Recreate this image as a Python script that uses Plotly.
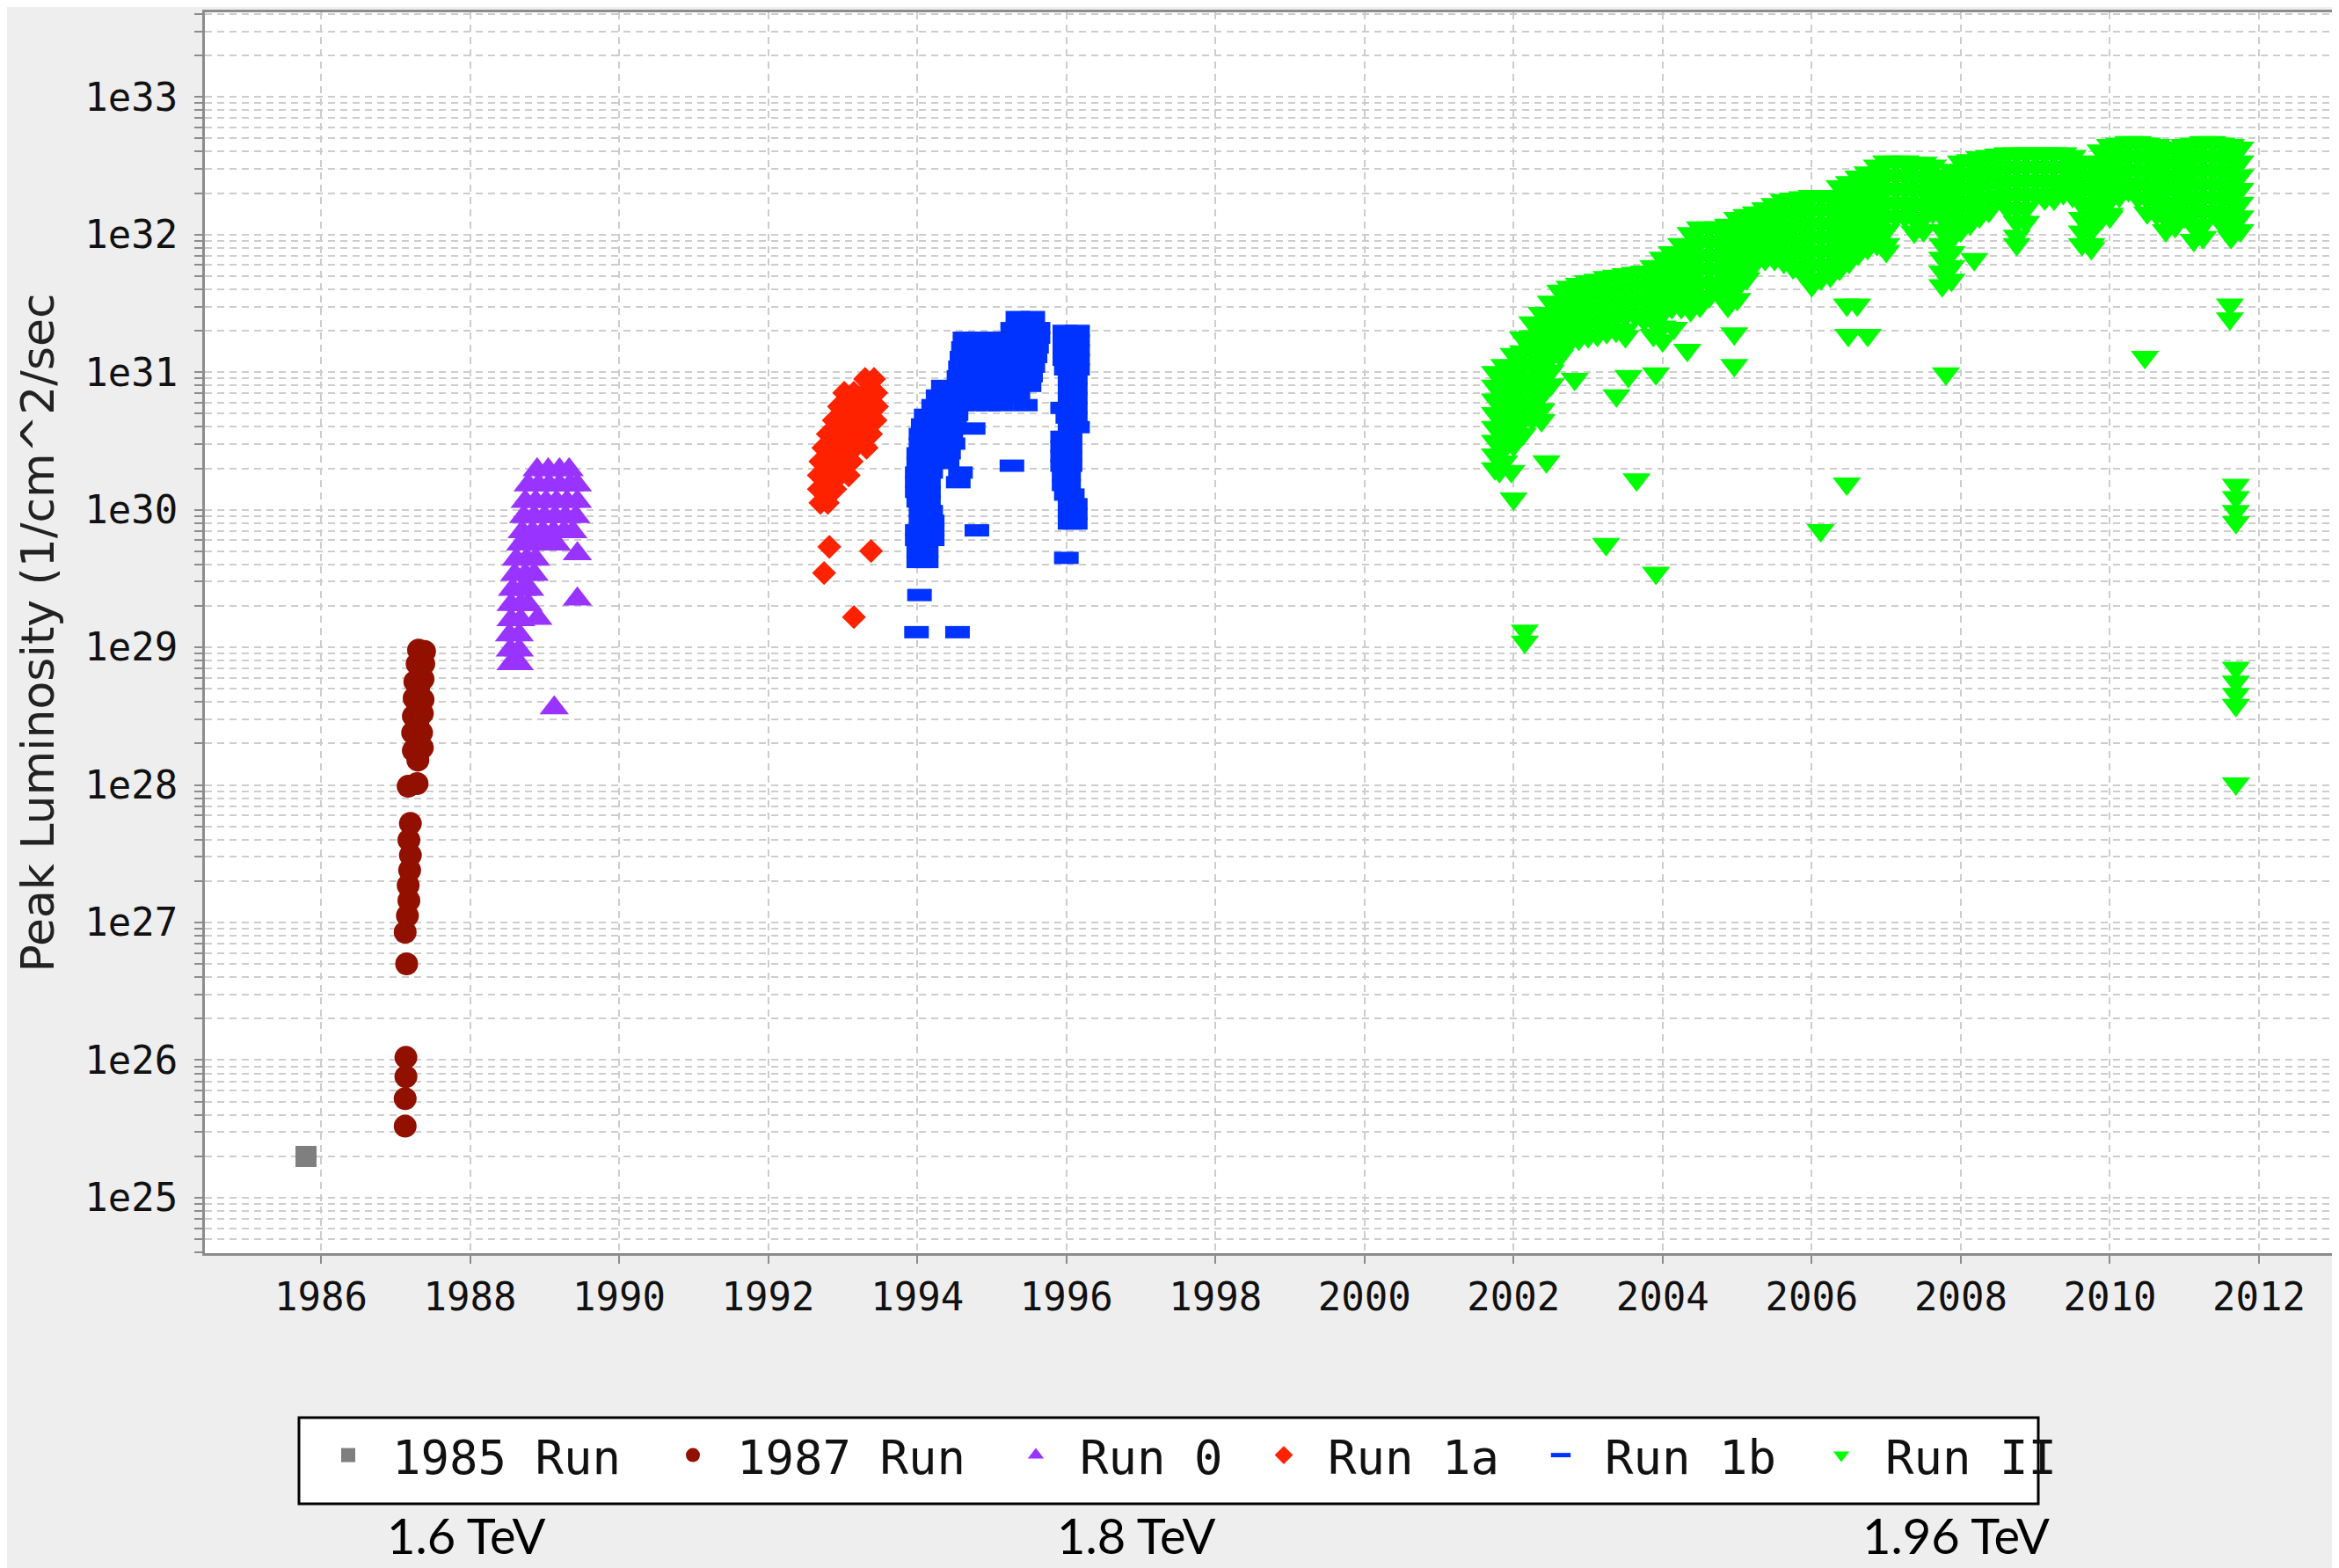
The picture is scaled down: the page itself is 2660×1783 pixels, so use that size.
import plotly.graph_objects as go

# ---------------- data: (year, log10 of peak luminosity [1/cm^2/sec]) ----------------
RUN_1985 = [(1985.80, 25.30)]

RUN_1987 = [
    (1987.13, 25.52), (1987.13, 25.72), (1987.14, 25.88), (1987.14, 26.02),
    (1987.15, 26.70), (1987.13, 26.93), (1987.16, 27.05), (1987.18, 27.16),
    (1987.17, 27.27), (1987.19, 27.38), (1987.20, 27.49), (1987.18, 27.60),
    (1987.20, 27.72), (1987.17, 27.99), (1987.29, 28.01), (1987.24, 28.25),
    (1987.36, 28.27), (1987.23, 28.38), (1987.35, 28.38), (1987.24, 28.50),
    (1987.36, 28.52), (1987.25, 28.63), (1987.37, 28.62), (1987.26, 28.75),
    (1987.37, 28.77), (1987.29, 28.88), (1987.38, 28.88), (1987.31, 28.98),
    (1987.39, 28.97), (1987.30, 28.44), (1987.31, 28.70), (1987.30, 28.18),
]

# rows: (log10 L, [years])
RUN0_ROWS = [
    (30.29, [1988.90, 1989.05, 1989.20, 1989.33]),
    (30.18, [1988.78, 1988.92, 1989.06, 1989.20, 1989.34, 1989.44]),
    (30.06, [1988.74, 1988.88, 1989.02, 1989.16, 1989.30, 1989.44]),
    (29.95, [1988.72, 1988.86, 1989.00, 1989.14, 1989.28, 1989.42]),
    (29.84, [1988.70, 1988.84, 1988.98, 1989.12, 1989.26, 1989.38]),
    (29.75, [1988.68, 1988.80, 1988.92, 1989.04, 1989.16]),
    (29.64, [1988.62, 1988.76, 1988.88]),
    (29.53, [1988.60, 1988.74, 1988.86]),
    (29.42, [1988.57, 1988.70, 1988.80]),
    (29.31, [1988.55, 1988.68, 1988.78]),
    (29.20, [1988.55, 1988.68]),
    (29.09, [1988.53, 1988.66]),
    (28.98, [1988.54, 1988.66]),
    (28.88, [1988.55, 1988.66]),
    (29.68, [1989.44]), (29.35, [1989.44]), (29.21, [1988.91]), (28.56, [1989.13]),
]

RUN1A_ROWS = [
    (30.95, [1993.30, 1993.42]),
    (30.85, [1993.02, 1993.15, 1993.30, 1993.45]),
    (30.75, [1992.95, 1993.08, 1993.22, 1993.36, 1993.46]),
    (30.65, [1992.88, 1993.02, 1993.16, 1993.30, 1993.44]),
    (30.55, [1992.80, 1992.94, 1993.08, 1993.22, 1993.38]),
    (30.45, [1992.74, 1992.88, 1993.02, 1993.16, 1993.32]),
    (30.35, [1992.70, 1992.84, 1992.98, 1993.12]),
    (30.25, [1992.68, 1992.82, 1992.96, 1993.08]),
    (30.15, [1992.68, 1992.80, 1992.90]),
    (30.05, [1992.70, 1992.80]),
    (29.73, [1992.82]), (29.70, [1993.38]), (29.54, [1992.75]), (29.22, [1993.15]),
]

RUN1B_ROWS = [
    # middle block
    (31.40, [1995.35, 1995.55]),
    (31.32, [1995.28, 1995.48, 1995.62]),
    (31.25, [1994.64, 1994.80, 1995.05, 1995.25, 1995.45, 1995.62]),
    (31.18, [1994.62, 1994.78, 1994.98, 1995.18, 1995.38, 1995.60]),
    (31.11, [1994.60, 1994.76, 1994.95, 1995.15, 1995.35, 1995.58]),
    (31.04, [1994.58, 1994.75, 1994.95, 1995.15, 1995.35, 1995.55]),
    (30.97, [1994.56, 1994.75, 1994.95, 1995.15, 1995.35, 1995.52]),
    (30.90, [1994.35, 1994.55, 1994.72, 1994.92, 1995.12, 1995.32, 1995.50]),
    (30.83, [1994.28, 1994.50, 1994.72, 1994.92, 1995.12, 1995.35]),
    (30.76, [1994.22, 1994.45, 1994.60, 1994.75, 1994.95, 1995.12, 1995.45]),
    # left column
    (30.69, [1994.12, 1994.32, 1994.52]),
    (30.62, [1994.08, 1994.28, 1994.50]),
    (30.55, [1994.05, 1994.25, 1994.45]),
    (30.48, [1994.05, 1994.25, 1994.48]),
    (30.41, [1994.02, 1994.22, 1994.42]),
    (30.34, [1994.02, 1994.20, 1994.40]),
    (30.27, [1994.00, 1994.18, 1994.58]),
    (30.20, [1994.00, 1994.15, 1994.55]),
    (30.13, [1994.00, 1994.15]),
    (30.06, [1994.02, 1994.15]),
    (29.99, [1994.05, 1994.18]),
    (29.92, [1994.05, 1994.20]),
    (29.85, [1994.00, 1994.20, 1994.80]),
    (29.78, [1994.00, 1994.20]),
    (29.70, [1994.02, 1994.12]),
    (29.62, [1994.02, 1994.12]),
    (29.38, [1994.03]), (29.11, [1993.99, 1994.54]), (30.59, [1994.75]), (30.32, [1995.27]),
    # right column
    (31.30, [1995.98, 1996.15]),
    (31.23, [1995.98, 1996.15]),
    (31.16, [1995.98, 1996.15]),
    (31.09, [1995.98, 1996.15]),
    (31.02, [1996.00, 1996.15]),
    (30.95, [1996.05, 1996.12]),
    (30.88, [1996.05, 1996.12]),
    (30.81, [1996.05, 1996.12]),
    (30.74, [1995.95, 1996.12]),
    (30.67, [1996.02, 1996.12]),
    (30.60, [1996.05, 1996.15]),
    (30.53, [1995.95, 1996.05]),
    (30.46, [1995.95, 1996.05]),
    (30.39, [1995.95, 1996.05]),
    (30.32, [1995.95, 1996.05]),
    (30.25, [1995.97, 1996.03]),
    (30.18, [1995.97, 1996.03]),
    (30.11, [1996.00, 1996.08]),
    (30.04, [1996.05, 1996.12]),
    (29.97, [1996.05, 1996.12]),
    (29.90, [1996.05, 1996.12]),
    (29.65, [1996.00]),
]

# columns: (year, [log10 L values])
RUN2_COLUMNS = [
    (2001.75, [31.00, 30.90, 30.80, 30.70, 30.60, 30.50, 30.40, 30.30]),
    (2001.875, [31.05, 30.95, 30.85, 30.75, 30.65, 30.55, 30.45, 30.35]),
    (2002.00, [31.13, 31.03, 30.93, 30.83, 30.73, 30.63, 30.53, 30.47]),
    (2002.125, [31.25, 31.15, 31.05, 30.95, 30.85, 30.75, 30.65, 30.55]),
    (2002.25, [31.36, 31.26, 31.16, 31.06, 30.96, 30.86, 30.76, 30.66]),
    (2002.375, [31.43, 31.33, 31.23, 31.13, 31.03, 30.93, 30.83, 30.73, 30.65]),
    (2002.50, [31.51, 31.41, 31.31, 31.21, 31.11, 31.01, 30.91]),
    (2002.625, [31.59, 31.49, 31.39, 31.29, 31.19, 31.12]),
    (2002.75, [31.62, 31.52, 31.42, 31.32, 31.22]),
    (2002.875, [31.64, 31.54, 31.44, 31.34, 31.24]),
    (2003.00, [31.66, 31.56, 31.46, 31.36, 31.26]),
    (2003.125, [31.67, 31.57, 31.47, 31.37, 31.27]),
    (2003.25, [31.69, 31.59, 31.49, 31.39, 31.29]),
    (2003.375, [31.70, 31.60, 31.50, 31.40, 31.30]),
    (2003.50, [31.71, 31.61, 31.51, 31.41, 31.31, 31.26]),
    (2003.625, [31.72, 31.62, 31.52, 31.42]),
    (2003.75, [31.73, 31.63, 31.53, 31.43, 31.38]),
    (2003.875, [31.77, 31.67, 31.57, 31.47, 31.37, 31.27]),
    (2004.00, [31.83, 31.73, 31.63, 31.53, 31.43, 31.33, 31.23]),
    (2004.125, [31.87, 31.77, 31.67, 31.57, 31.47]),
    (2004.25, [31.93, 31.83, 31.73, 31.63, 31.53, 31.47]),
    (2004.375, [32.01, 31.91, 31.81, 31.71, 31.61, 31.51, 31.45]),
    (2004.50, [32.05, 31.95, 31.85, 31.75, 31.65, 31.55, 31.48]),
    (2004.625, [32.05, 31.95, 31.85, 31.75, 31.65, 31.55]),
    (2004.75, [32.05, 31.95, 31.85, 31.75, 31.65, 31.58]),
    (2004.875, [32.07, 31.97, 31.87, 31.77, 31.67, 31.57, 31.48]),
    (2005.00, [32.12, 32.02, 31.92, 31.82, 31.72, 31.62, 31.53]),
    (2005.125, [32.14, 32.04, 31.94, 31.84, 31.74, 31.68]),
    (2005.25, [32.16, 32.06, 31.96, 31.86, 31.80]),
    (2005.375, [32.19, 32.09, 31.99, 31.89, 31.82]),
    (2005.50, [32.22, 32.12, 32.02, 31.92, 31.82]),
    (2005.625, [32.25, 32.15, 32.05, 31.95, 31.85, 31.80]),
    (2005.75, [32.26, 32.16, 32.06, 31.96, 31.86, 31.76]),
    (2005.875, [32.27, 32.17, 32.07, 31.97, 31.87, 31.77, 31.72]),
    (2006.00, [32.28, 32.18, 32.08, 31.98, 31.88, 31.78, 31.68, 31.63]),
    (2006.125, [32.28, 32.18, 32.08, 31.98, 31.88, 31.78, 31.68]),
    (2006.25, [32.28, 32.18, 32.08, 31.98, 31.88, 31.78, 31.70]),
    (2006.375, [32.35, 32.25, 32.15, 32.05, 31.95, 31.85, 31.75]),
    (2006.50, [32.38, 32.28, 32.18, 32.08, 31.98, 31.88, 31.80]),
    (2006.625, [32.42, 32.32, 32.22, 32.12, 32.02, 31.92, 31.86]),
    (2006.75, [32.45, 32.35, 32.25, 32.15, 32.05, 31.95, 31.90]),
    (2006.875, [32.50, 32.40, 32.30, 32.20, 32.10, 32.00, 31.93]),
    (2007.00, [32.53, 32.43, 32.33, 32.23, 32.13, 32.03, 31.93, 31.88]),
    (2007.125, [32.53, 32.43, 32.33, 32.23, 32.13]),
    (2007.25, [32.53, 32.43, 32.33, 32.23, 32.13]),
    (2007.375, [32.52, 32.42, 32.32, 32.22, 32.12, 32.02]),
    (2007.50, [32.52, 32.42, 32.32, 32.22, 32.12, 32.03]),
    (2007.625, [32.50, 32.40, 32.30, 32.20, 32.16]),
    (2007.75, [32.43, 32.33, 32.23, 32.13, 32.03, 31.93, 31.83, 31.73, 31.63]),
    (2007.875, [32.47, 32.37, 32.27, 32.17, 32.07, 31.97, 31.87, 31.77, 31.67]),
    (2008.00, [32.53, 32.43, 32.33, 32.23, 32.13, 32.03]),
    (2008.125, [32.54, 32.44, 32.34, 32.24, 32.14, 32.08]),
    (2008.25, [32.56, 32.46, 32.36, 32.26, 32.16, 32.13]),
    (2008.375, [32.57, 32.47, 32.37, 32.27, 32.17]),
    (2008.50, [32.58, 32.48, 32.38, 32.28, 32.26]),
    (2008.625, [32.59, 32.49, 32.39, 32.29, 32.19]),
    (2008.75, [32.59, 32.49, 32.39, 32.29, 32.19, 32.09, 31.99, 31.93]),
    (2008.875, [32.59, 32.49, 32.39, 32.29, 32.19, 32.09]),
    (2009.00, [32.59, 32.49, 32.39, 32.29]),
    (2009.125, [32.59, 32.49, 32.39, 32.29, 32.26]),
    (2009.25, [32.59, 32.49, 32.39, 32.29, 32.26]),
    (2009.375, [32.59, 32.49, 32.39, 32.30]),
    (2009.50, [32.57, 32.47, 32.37, 32.28]),
    (2009.625, [32.52, 32.42, 32.32, 32.22, 32.12, 32.02, 31.93]),
    (2009.75, [32.53, 32.43, 32.33, 32.23, 32.13, 32.03, 31.93, 31.90]),
    (2009.875, [32.61, 32.51, 32.41, 32.31, 32.21, 32.11]),
    (2010.00, [32.65, 32.55, 32.45, 32.35, 32.25, 32.15, 32.13]),
    (2010.125, [32.66, 32.56, 32.46, 32.36, 32.28]),
    (2010.25, [32.67, 32.57, 32.47, 32.37, 32.32]),
    (2010.375, [32.67, 32.57, 32.47, 32.37, 32.27]),
    (2010.50, [32.66, 32.56, 32.46, 32.36, 32.26, 32.16]),
    (2010.625, [32.65, 32.55, 32.45, 32.35, 32.25, 32.15]),
    (2010.75, [32.62, 32.52, 32.42, 32.32, 32.22, 32.12, 32.03]),
    (2010.875, [32.63, 32.53, 32.43, 32.33, 32.23, 32.13, 32.06]),
    (2011.00, [32.65, 32.55, 32.45, 32.35, 32.25, 32.15, 32.13]),
    (2011.125, [32.66, 32.56, 32.46, 32.36, 32.26, 32.16, 32.06, 31.96]),
    (2011.25, [32.67, 32.57, 32.47, 32.37, 32.27, 32.17, 32.07, 31.98]),
    (2011.375, [32.67, 32.57, 32.47, 32.37, 32.27, 32.17]),
    (2011.50, [32.66, 32.56, 32.46, 32.36, 32.26, 32.16, 32.08]),
    (2011.625, [32.65, 32.55, 32.45, 32.35, 32.25, 32.15, 32.05, 31.98]),
    (2011.75, [32.63, 32.53, 32.43, 32.33, 32.23, 32.13, 32.03]),
]

RUN2_OUTLIERS = [
    (2001.81, 30.28), (2001.97, 30.28), (2002.00, 30.08), (2002.15, 29.12),
    (2002.15, 29.04), (2002.44, 30.35), (2002.82, 30.95), (2003.24, 29.75),
    (2003.38, 30.83), (2003.54, 30.97), (2003.65, 30.22), (2003.91, 30.99),
    (2003.91, 29.54), (2004.15, 31.32), (2004.33, 31.16), (2004.96, 31.28),
    (2004.96, 31.05), (2006.12, 29.85), (2006.47, 30.19), (2006.47, 31.49),
    (2006.61, 31.49), (2006.49, 31.27), (2006.75, 31.27), (2007.80, 30.99),
    (2008.18, 31.82), (2010.47, 31.11), (2011.61, 31.49), (2011.61, 31.39),
    (2011.69, 30.18), (2011.69, 30.09), (2011.69, 29.99), (2011.69, 29.91),
    (2011.69, 28.85), (2011.69, 28.75), (2011.69, 28.66), (2011.69, 28.58),
    (2011.69, 28.01),
]

SERIES_NAMES = ["1985 Run", "1987 Run", "Run 0", "Run 1a", "Run 1b", "Run II"]
X_TICKS = [1986, 1988, 1990, 1992, 1994, 1996, 1998, 2000, 2002, 2004, 2006, 2008, 2010, 2012]
Y_TICK_VALUES = [1e25, 1e26, 1e27, 1e28, 1e29, 1e30, 1e31, 1e32, 1e33]
Y_TICK_TEXT = ["1e25", "1e26", "1e27", "1e28", "1e29", "1e30", "1e31", "1e32", "1e33"]
ENERGY_LABELS = ["1.6 TeV", "1.8 TeV", "1.96 TeV"]


def from_pairs(pairs):
    return [p[0] for p in pairs], [10.0 ** p[1] for p in pairs]


def from_rows(rows):
    xs, ys = [], []
    for lg, years in rows:
        for yr in years:
            xs.append(yr)
            ys.append(10.0 ** lg)
    return xs, ys


def from_columns(cols):
    xs, ys = [], []
    for yr, logs in cols:
        for lg in logs:
            xs.append(yr)
            ys.append(10.0 ** lg)
    return xs, ys


x85, y85 = from_pairs(RUN_1985)
x87, y87 = from_pairs(RUN_1987)
x0, y0 = from_rows(RUN0_ROWS)
x1a, y1a = from_rows(RUN1A_ROWS)
x1b, y1b = from_rows(RUN1B_ROWS)
x2a, y2a = from_columns(RUN2_COLUMNS)
x2b, y2b = from_pairs(RUN2_OUTLIERS)
x2, y2 = x2a + x2b, y2a + y2b

# ---------------- layout geometry (page has an 8px body margin) ----------------
OFF = 8
W, H = 2660 - OFF, 1783 - OFF
ML, MT = 233 - OFF, 14 - OFF
MR = W - (2658 - OFF)
MB = H - (1425 - OFF)
PW, PH = W - ML - MR, H - MT - MB


def px_x(px):
    return (px - OFF - ML) / PW


def px_y(py):
    return (MT + PH - (py - OFF)) / PH


GRID = "#CDCDCD"
AXIS = "#8C8C8C"
TICKFONT = dict(family="DejaVu Sans Mono", size=44, color="#111111")

fig = go.Figure()

styles = [
    dict(symbol="square", size=24, color="#7F7F7F"),
    dict(symbol="circle", size=26, color="#921000"),
    dict(symbol="triangle-up", size=29, color="#9933FF"),
    dict(symbol="diamond", size=21, color="#FF2200"),
    dict(symbol="line-ew", size=20, color="#0033FF", line=dict(width=14, color="#0033FF")),
    dict(symbol="triangle-down", size=28, color="#00FF00"),
]
data = [(x85, y85), (x87, y87), (x0, y0), (x1a, y1a), (x1b, y1b), (x2, y2)]
legend_ids = ["legend", "legend2", "legend3", "legend4", "legend5", "legend6"]

for name, (xs, ys), st, lid in zip(SERIES_NAMES, data, styles, legend_ids):
    mk = dict(symbol=st["symbol"], size=st["size"], color=st["color"],
              line=st.get("line", dict(width=0)))
    fig.add_trace(go.Scatter(x=xs, y=ys, mode="markers", name=name, marker=mk,
                             legend=lid, showlegend=True, hoverinfo="x+y+name"))

# legend marker centres (page pixels) in the reference
MARK_PX = [388, 780, 1170, 1452, 1767, 2086]
LEG_OFF = 50
ITEMW = 90
legend_layout = {}
for lid, mx in zip(legend_ids, MARK_PX):
    legend_layout[lid] = dict(
        x=px_x(mx - LEG_OFF + OFF), y=px_y(1655), xanchor="left", yanchor="middle",
        orientation="h", bgcolor="rgba(0,0,0,0)", borderwidth=0,
        itemwidth=ITEMW, font=dict(family="DejaVu Sans Mono", size=54, color="#111111"),
    )

fig.update_layout(
    width=W, height=H, template="none",
    margin=dict(l=ML, r=MR, t=MT, b=MB, autoexpand=False),
    paper_bgcolor="#EEEEEE", plot_bgcolor="#FFFFFF",
    **legend_layout,
    shapes=[dict(type="rect", xref="paper", yref="paper",
                 x0=px_x(340), x1=px_x(2318), y0=px_y(1710), y1=px_y(1612),
                 line=dict(color="#000000", width=3), fillcolor="#FFFFFF", layer="below")],
    annotations=[
        dict(text=t, x=px_x(cx), y=px_y(1781), xref="paper", yref="paper",
             xanchor="center", yanchor="bottom", showarrow=False,
             font=dict(family="Lato", size=56, color="#000000"))
        for t, cx in zip(ENERGY_LABELS, [530, 1292, 2224])
    ],
)

fig.update_xaxes(
    range=[1984.443, 2013.05], tickmode="array", tickvals=X_TICKS,
    ticktext=[str(v) for v in X_TICKS], tickfont=TICKFONT,
    showgrid=True, gridcolor=GRID, gridwidth=2, griddash="8px,6px",
    showline=True, linecolor=AXIS, linewidth=3, mirror=True,
    ticks="outside", ticklen=9, tickwidth=2, tickcolor=AXIS,
    zeroline=False, automargin=False,
)

MINOR_TICKS = [m * 10.0 ** e for e in range(24, 34) for m in range(2, 10)]
fig.update_yaxes(
    type="log", range=[24.597, 33.615], tickmode="array",
    tickvals=Y_TICK_VALUES, ticktext=Y_TICK_TEXT, tickfont=TICKFONT,
    ticklabelstandoff=10,
    showgrid=True, gridcolor=GRID, gridwidth=2, griddash="8px,6px",
    showline=True, linecolor=AXIS, linewidth=3, mirror=True,
    ticks="outside", ticklen=9, tickwidth=2, tickcolor=AXIS,
    minor=dict(tickmode="array", tickvals=MINOR_TICKS, ticks="outside", ticklen=9,
               tickwidth=2, tickcolor=AXIS, showgrid=True, gridcolor=GRID,
               gridwidth=2, griddash="8px,6px"),
    zeroline=False, automargin=False,
    title=dict(text="Peak Luminosity (1/cm^2/sec",
               font=dict(family="DejaVu Sans", size=52, color="#222222"), standoff=19),
)

fig.write_html("out.html")
